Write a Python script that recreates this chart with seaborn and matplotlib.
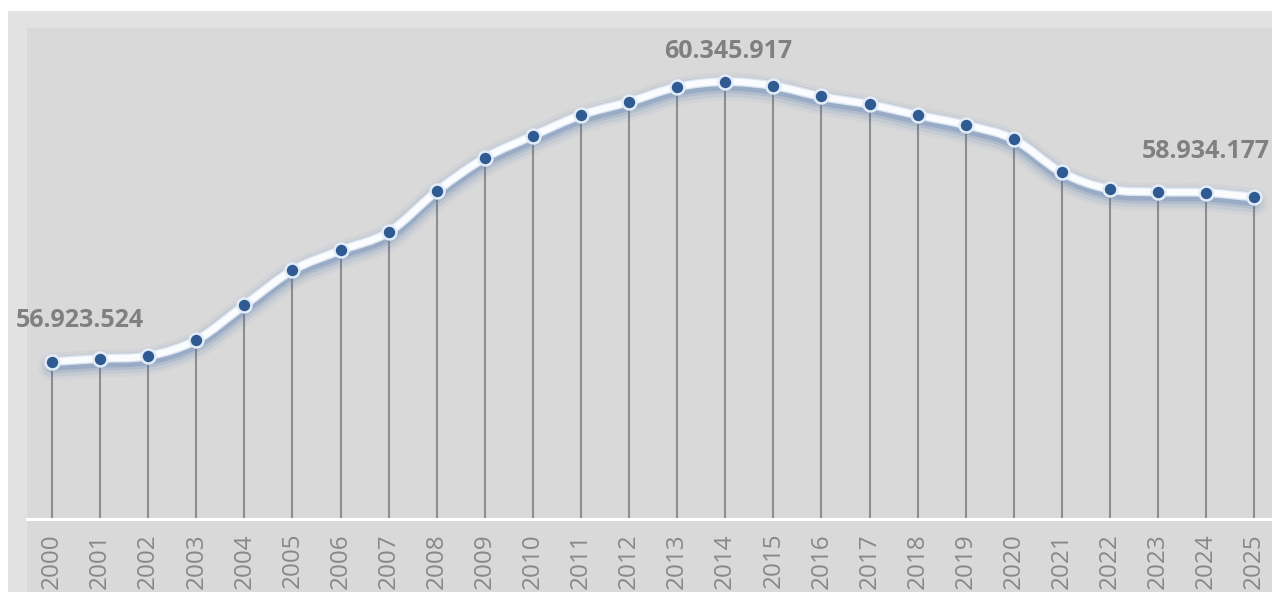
import numpy as np
import pandas as pd
import matplotlib
matplotlib.use("Agg")
import matplotlib.pyplot as plt
import matplotlib.transforms as mtransforms
from matplotlib.path import Path
from matplotlib.patches import PathPatch, Rectangle
import seaborn as sns

# Resident population on 1 January, 2000-2025
years = [str(y) for y in range(2000, 2026)]
population = [
    56923524, 56960692, 56993742, 57188000, 57614000, 58040000, 58284000,
    58507000, 59006000, 59413000, 59685000, 59937000, 60099000, 60281000,
    60345917, 60295497, 60163712, 60066734, 59937769, 59816673, 59641488,
    59236213, 59030133, 58997201, 58989749, 58934177,
]
# value labels: (year, dx px, dy px, horizontal alignment)
labelled = [("2000", -36, 35, "left"), ("2014", 3, 24, "center"), ("2025", 16, 39, "right")]

y_min, y_max = 55_000_000, 61_000_000

df = pd.DataFrame({"year": years, "population": population})
df["pos"] = np.arange(len(df))

sns.set_theme(style="white")
plt.rcParams["font.family"] = ["Open Sans", "DejaVu Sans"]

W, H = 1272, 592
fig = plt.figure(figsize=(W / 100, H / 100), dpi=100)
fig.patch.set_facecolor("white")

# chart area with a lighter bevel along the top and left edges
fig.add_artist(Rectangle((8 / W, 0), 1 - 8 / W, (H - 11) / H, transform=fig.transFigure,
                         facecolor="#e2e2e2", edgecolor="none", zorder=-10))
fig.add_artist(Rectangle((27 / W, 0), 1 - 27 / W, (H - 28) / H, transform=fig.transFigure,
                         facecolor="#d9d9d9", edgecolor="none", zorder=-9))

ax = fig.add_axes([27 / W, (H - 519) / H, 1 - 27 / W, (519 - 28) / H])
ax.set_facecolor("none")
ax.set_xlim(-0.52, 25.37)
ax.set_ylim(y_min, y_max)

# drop lines from each point to the axis
ax.vlines(df["pos"], y_min, df["population"], color="#8e8e8e", lw=1.5, zorder=2)

# smoothed line (Catmull-Rom as cubic Bezier segments)
pts = df[["pos", "population"]].to_numpy(dtype=float)
ext = np.vstack([pts[0], pts, pts[-1]])
verts = [tuple(pts[0])]
codes = [Path.MOVETO]
for i in range(len(pts) - 1):
    p0, p1, p2, p3 = ext[i], ext[i + 1], ext[i + 2], ext[i + 3]
    c1 = p1 + (p2 - p0) / 6.0
    c2 = p2 - (p3 - p1) / 6.0
    verts += [tuple(c1), tuple(c2), tuple(p2)]
    codes += [Path.CURVE4] * 3
curve = Path(verts, codes)

shadow = ax.transData + mtransforms.ScaledTranslation(0, -5 / 100, fig.dpi_scale_trans)
for lw, a in [(20, 0.05), (15, 0.09), (10, 0.15), (6, 0.22)]:
    ax.add_patch(PathPatch(curve, facecolor="none", edgecolor="#4a74b0", lw=lw, alpha=a,
                           transform=shadow, capstyle="round", joinstyle="round", zorder=3))
ax.add_patch(PathPatch(curve, facecolor="none", edgecolor="#dce6f2", lw=6.5,
                       capstyle="round", joinstyle="round", zorder=4))
ax.add_patch(PathPatch(curve, facecolor="none", edgecolor="#fbfcfe", lw=4.5,
                       capstyle="round", joinstyle="round", zorder=4))

# markers with a soft blue shadow
mshadow = ax.transData + mtransforms.ScaledTranslation(0, -4 / 100, fig.dpi_scale_trans)
for s, a in [(300, 0.08), (190, 0.15)]:
    sc = ax.scatter(df["pos"], df["population"], s=s, color="#3f6aa8", alpha=a,
                    linewidths=0, zorder=5)
    sc.set_transform(mshadow)
sns.scatterplot(data=df, x="pos", y="population", ax=ax, s=100, color="#2f5b92",
                edgecolor="#e3edf9", linewidth=1.8, zorder=6, legend=False)

# value labels
for yr, dx, dy, ha in labelled:
    row = df[df["year"] == yr].iloc[0]
    ax.annotate(f"{int(row['population']):,}".replace(",", "."),
                xy=(row["pos"], row["population"]), xytext=(dx, dy),
                textcoords="offset pixels", ha=ha, va="baseline",
                fontsize=18, fontweight="bold", color="#808080",
                annotation_clip=False, zorder=7)

ax.set_xticks(df["pos"], labels=df["year"], rotation=90, fontsize=17.5, color="#888888")
ax.set_yticks([])
ax.tick_params(axis="x", length=0, pad=10)
ax.set_xlabel("")
ax.set_ylabel("")
for side in ["top", "left", "right"]:
    ax.spines[side].set_visible(False)
ax.spines["bottom"].set_color("white")
ax.spines["bottom"].set_linewidth(2.2)
ax.spines["bottom"].set_zorder(8)

fig.savefig("out.png", dpi=100)
